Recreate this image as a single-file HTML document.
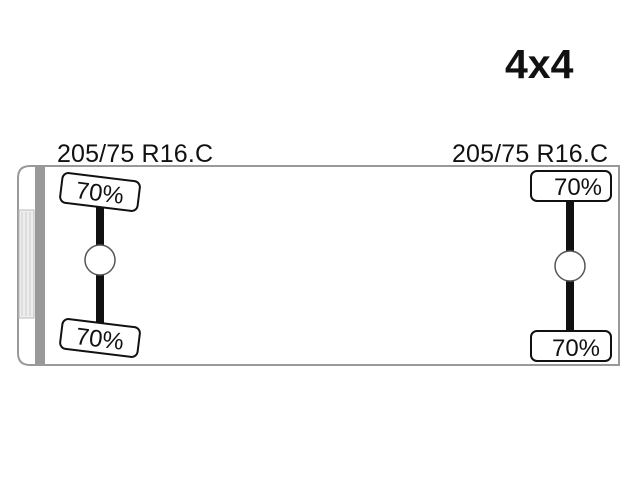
<!DOCTYPE html>
<html><head><style>
html,body{margin:0;padding:0;background:#fff;}
svg{display:block}
</style></head><body>
<svg width="640" height="480" viewBox="0 0 640 480" xmlns="http://www.w3.org/2000/svg" font-family="Liberation Sans, sans-serif">
<rect width="640" height="480" fill="#fff"/>
<text x="505" y="78" font-size="41" font-weight="bold" fill="#111">4x4</text>
<text x="57" y="162" font-size="25" fill="#111" textLength="156">205/75 R16.C</text>
<text x="452" y="162" font-size="25" fill="#111" textLength="156">205/75 R16.C</text>
<path d="M45,166 L619,166 L619,365 L45,365 L30,365 Q18,365 18,353 L18,178 Q18,166 30,166 Z" fill="#fff" stroke="#999" stroke-width="2"/>
<rect x="35" y="167" width="10" height="197" fill="#999"/>
<rect x="19" y="210" width="15" height="108" fill="#eee" stroke="#bbb" stroke-width="1"/>
<line x1="22" y1="212" x2="22" y2="316" stroke="#ccc"/>
<line x1="26" y1="212" x2="26" y2="316" stroke="#ccc"/>
<line x1="30" y1="212" x2="30" y2="316" stroke="#ccc"/>
<rect x="96" y="205" width="8" height="120" fill="#111"/>
<circle cx="100" cy="260" r="15" fill="#fff" stroke="#555" stroke-width="1.5"/>
<g transform="rotate(7 100 192)">
<rect x="61" y="177" width="78" height="30" rx="6" fill="#fff" stroke="#111" stroke-width="2"/>
<text x="100" y="201" font-size="24" text-anchor="middle" fill="#111">70%</text>
</g>
<g transform="rotate(7 100 338)">
<rect x="61" y="323" width="78" height="30" rx="6" fill="#fff" stroke="#111" stroke-width="2"/>
<text x="100" y="347" font-size="24" text-anchor="middle" fill="#111">70%</text>
</g>
<rect x="566" y="200" width="8" height="132" fill="#111"/>
<circle cx="570" cy="266" r="15" fill="#fff" stroke="#555" stroke-width="1.5"/>
<rect x="531" y="171" width="80" height="30" rx="6" fill="#fff" stroke="#111" stroke-width="2"/>
<text x="578" y="195" font-size="24" text-anchor="middle" fill="#111">70%</text>
<rect x="531" y="331" width="80" height="30" rx="6" fill="#fff" stroke="#111" stroke-width="2"/>
<text x="576" y="356" font-size="24" text-anchor="middle" fill="#111">70%</text>
</svg>
</body></html>
